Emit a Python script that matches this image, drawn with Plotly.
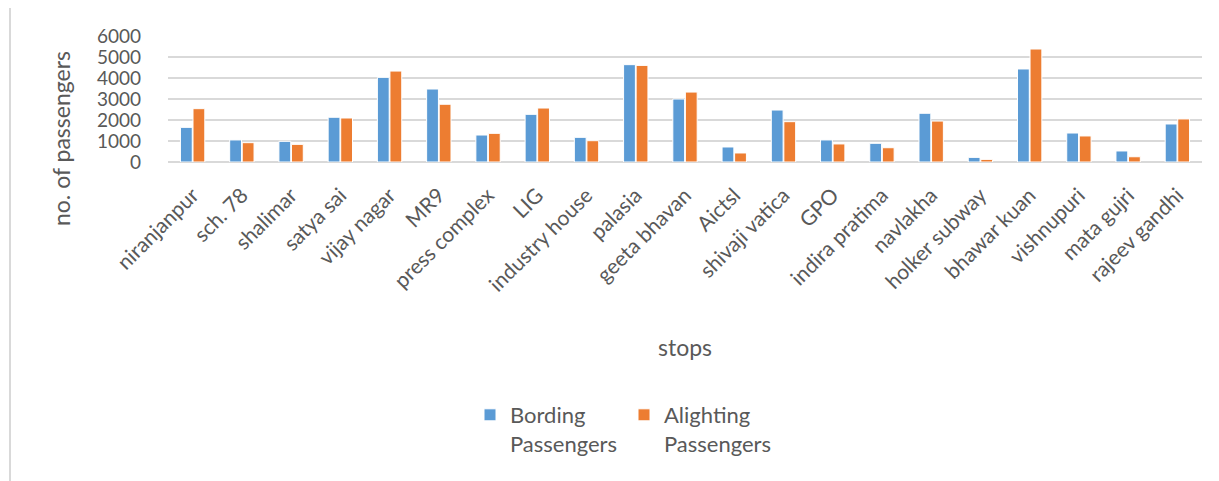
import plotly.graph_objects as go

stops = ["niranjanpur", "sch. 78", "shalimar", "satya sai", "vijay nagar", "MR9",
         "press complex", "LIG", "industry house", "palasia", "geeta bhavan", "Aictsl",
         "shivaji vatica", "GPO", "indira pratima", "navlakha", "holker subway",
         "bhawar kuan", "vishnupuri", "mata gujri", "rajeev gandhi"]
boarding = [1650, 1050, 985, 2130, 4030, 3475, 1285, 2270, 1175, 4635, 3000, 715,
            2475, 1050, 890, 2320, 220, 4430, 1380, 525, 1810]
alighting = [2540, 920, 840, 2095, 4330, 2750, 1365, 2570, 1015, 4600, 3330, 430,
             1920, 860, 680, 1950, 125, 5380, 1240, 250, 2050]
y_ticks = [0, 1000, 2000, 3000, 4000, 5000, 6000]

FONT = "Lato"
GREY = "#595959"
O = 8  # page body margin of the browser
W, H = 1219 - O, 481 - O
# plot area in window pixels: x 168..1202, y 36..162
L, T = 168 - O, 36 - O
R = W - (1202 - O)
B = H - (162 - O)
pw, ph = W - L - R, H - T - B

def px_x(x):
    return (x - O - L) / pw

def px_y(y):
    return (H - B - (y - O)) / ph

fig = go.Figure()
fig.add_trace(go.Bar(name="Bording<br>Passengers", x=stops, y=boarding,
                     marker=dict(color="#5B9BD5", line=dict(color="white", width=1))))
fig.add_trace(go.Bar(name="Alighting<br>Passengers", x=stops, y=alighting,
                     marker=dict(color="#ED7D31", line=dict(color="white", width=1))))

fig.update_layout(
    width=W, height=H,
    margin=dict(l=L, r=R, t=T, b=B, autoexpand=False),
    paper_bgcolor="white", plot_bgcolor="white",
    font=dict(family=FONT, color=GREY),
    barmode="group", bargap=0.49, bargroupgap=0.06,
    showlegend=True,
    legend=dict(orientation="h", x=px_x(470), y=px_y(394), xanchor="left", yanchor="top",
                font=dict(size=22, family=FONT, color=GREY), valign="top",
                entrywidth=109, entrywidthmode="pixels", itemwidth=30,
                bgcolor="rgba(0,0,0,0)"),
    xaxis=dict(tickangle=-45, tickfont=dict(size=21, family=FONT, color=GREY),
               showline=False, showgrid=False, ticks="", ticklabelstandoff=16),
    yaxis=dict(range=[0, 6000], tickvals=y_ticks, tickfont=dict(size=19, family=FONT, color=GREY),
               showgrid=True, gridcolor="#D9D9D9", gridwidth=1.5,
               zeroline=True, zerolinecolor="#D9D9D9", zerolinewidth=1.5,
               showline=False, ticks="", ticklabelstandoff=26),
)

fig.add_annotation(text="no. of passengers", textangle=-90, xref="paper", yref="paper",
                   x=px_x(61), y=px_y(139), xanchor="center", yanchor="middle", showarrow=False,
                   font=dict(size=23, family=FONT, color=GREY))
fig.add_annotation(text="stops", xref="paper", yref="paper",
                   x=px_x(685), y=px_y(347), xanchor="center", yanchor="middle", showarrow=False,
                   font=dict(size=23, family=FONT, color=GREY))

fig.add_shape(type="rect", xref="paper", yref="paper",
              x0=px_x(10), x1=px_x(1235), y0=px_y(500), y1=px_y(7),
              line=dict(color="#D9D9D9", width=2), fillcolor="rgba(0,0,0,0)", layer="below")

fig.write_html("out.html")
